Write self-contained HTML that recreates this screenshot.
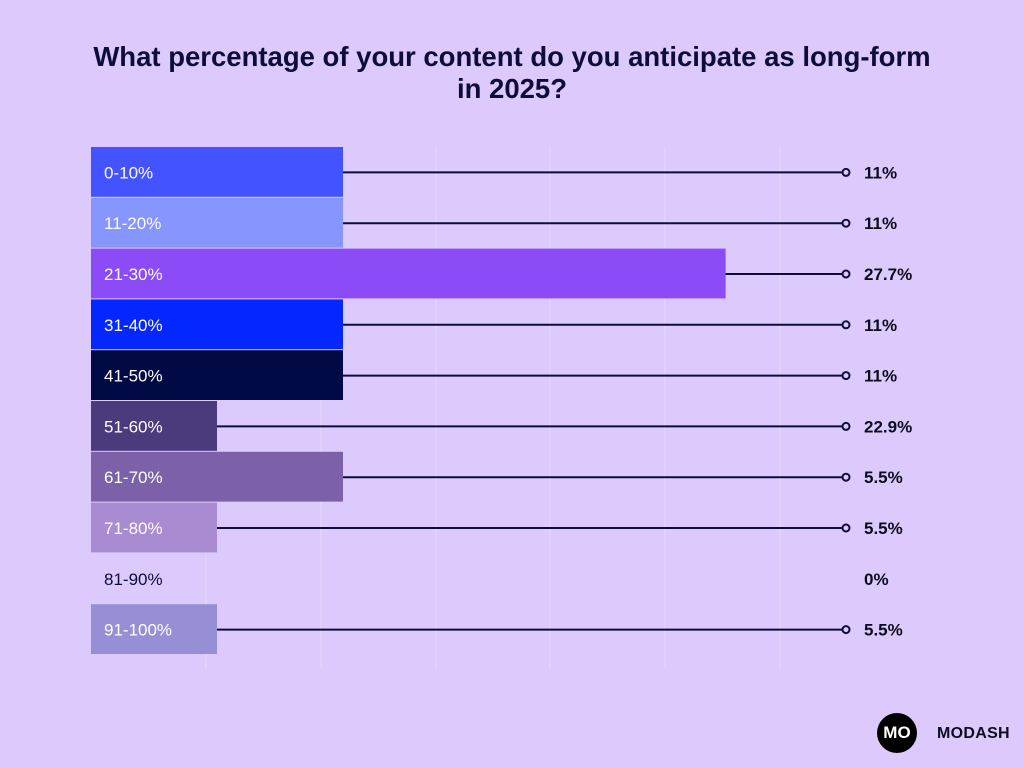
<!DOCTYPE html>
<html><head><meta charset="utf-8"><style>
body{margin:0;width:1024px;height:768px;background:#dccafc;font-family:"Liberation Sans",sans-serif;overflow:hidden;position:relative}
h1{position:absolute;top:41px;left:0;width:1024px;margin:0;text-align:center;font-size:27.5px;line-height:32px;color:#0d0c3a;font-weight:bold}
</style></head><body>
<h1>What percentage of your content do you anticipate as long-form<br>in 2025?</h1>
<svg id="chart" width="1024" height="768" style="position:absolute;left:0;top:0"></svg>
<div style="position:absolute;left:877px;top:713px;width:40px;height:40px;border-radius:50%;background:#000;color:#fff;font-weight:bold;font-size:17px;line-height:40px;text-align:center">MO</div>
<div style="position:absolute;left:937px;top:725px;font-weight:bold;font-size:16px;color:#0d0c1e;letter-spacing:0.3px">MODASH</div>
<script>
const categories=["0-10%","11-20%","21-30%","31-40%","41-50%","51-60%","61-70%","71-80%","81-90%","91-100%"];
const labelValues=[11,11,27.7,11,11,22.9,5.5,5.5,0,5.5];
const barValues=[11,11,27.7,11,11,5.5,11,5.5,0,5.5];
const colors=["#4353ff","#8795ff","#8b4cf7","#0527ff","#020a45","#4b3a7c","#7c61a8","#a88bd1","none","#978fd6"];
const ns="http://www.w3.org/2000/svg",svg=document.getElementById("chart");
const x0=91,pxPerUnit=252/11,y0=147,rowH=50.8;
const xs=v=>x0+v*pxPerUnit, ys=i=>y0+i*rowH;
function mk(t,a){const e=document.createElementNS(ns,t);for(const k in a)e.setAttribute(k,a[k]);svg.appendChild(e);return e;}
[206,321,436,550,665,780].forEach(x=>{const g=mk("line",{x1:x,x2:x,y1:147,y2:668,stroke:"#e6dafd","stroke-width":1});

});
categories.forEach((c,i)=>{
 const y=ys(i),cy=y+rowH/2,w=xs(barValues[i])-x0;
 if(w>0){const r=mk("rect",{x:x0,y:y,width:w,height:rowH-1,fill:colors[i]});
 
 
 const l=mk("line",{x1:x0+w,x2:842,y1:cy,y2:cy,stroke:"#0d0c3a","stroke-width":2});
 
 
 const ci=mk("circle",{cx:846,cy:cy,r:3.5,fill:"#dccafc",stroke:"#0d0c3a","stroke-width":2});
 
 }
 const t=mk("text",{x:104,y:cy+6,"font-size":17,fill:w>0?"#fff":"#0d0c3a"});t.textContent=c;
 
 
 const v=mk("text",{x:864,y:cy+6,"font-size":17,"font-weight":"bold",fill:"#0d0c1e"});v.textContent=labelValues[i]+"%";
 
 
});
</script>
</body></html>
